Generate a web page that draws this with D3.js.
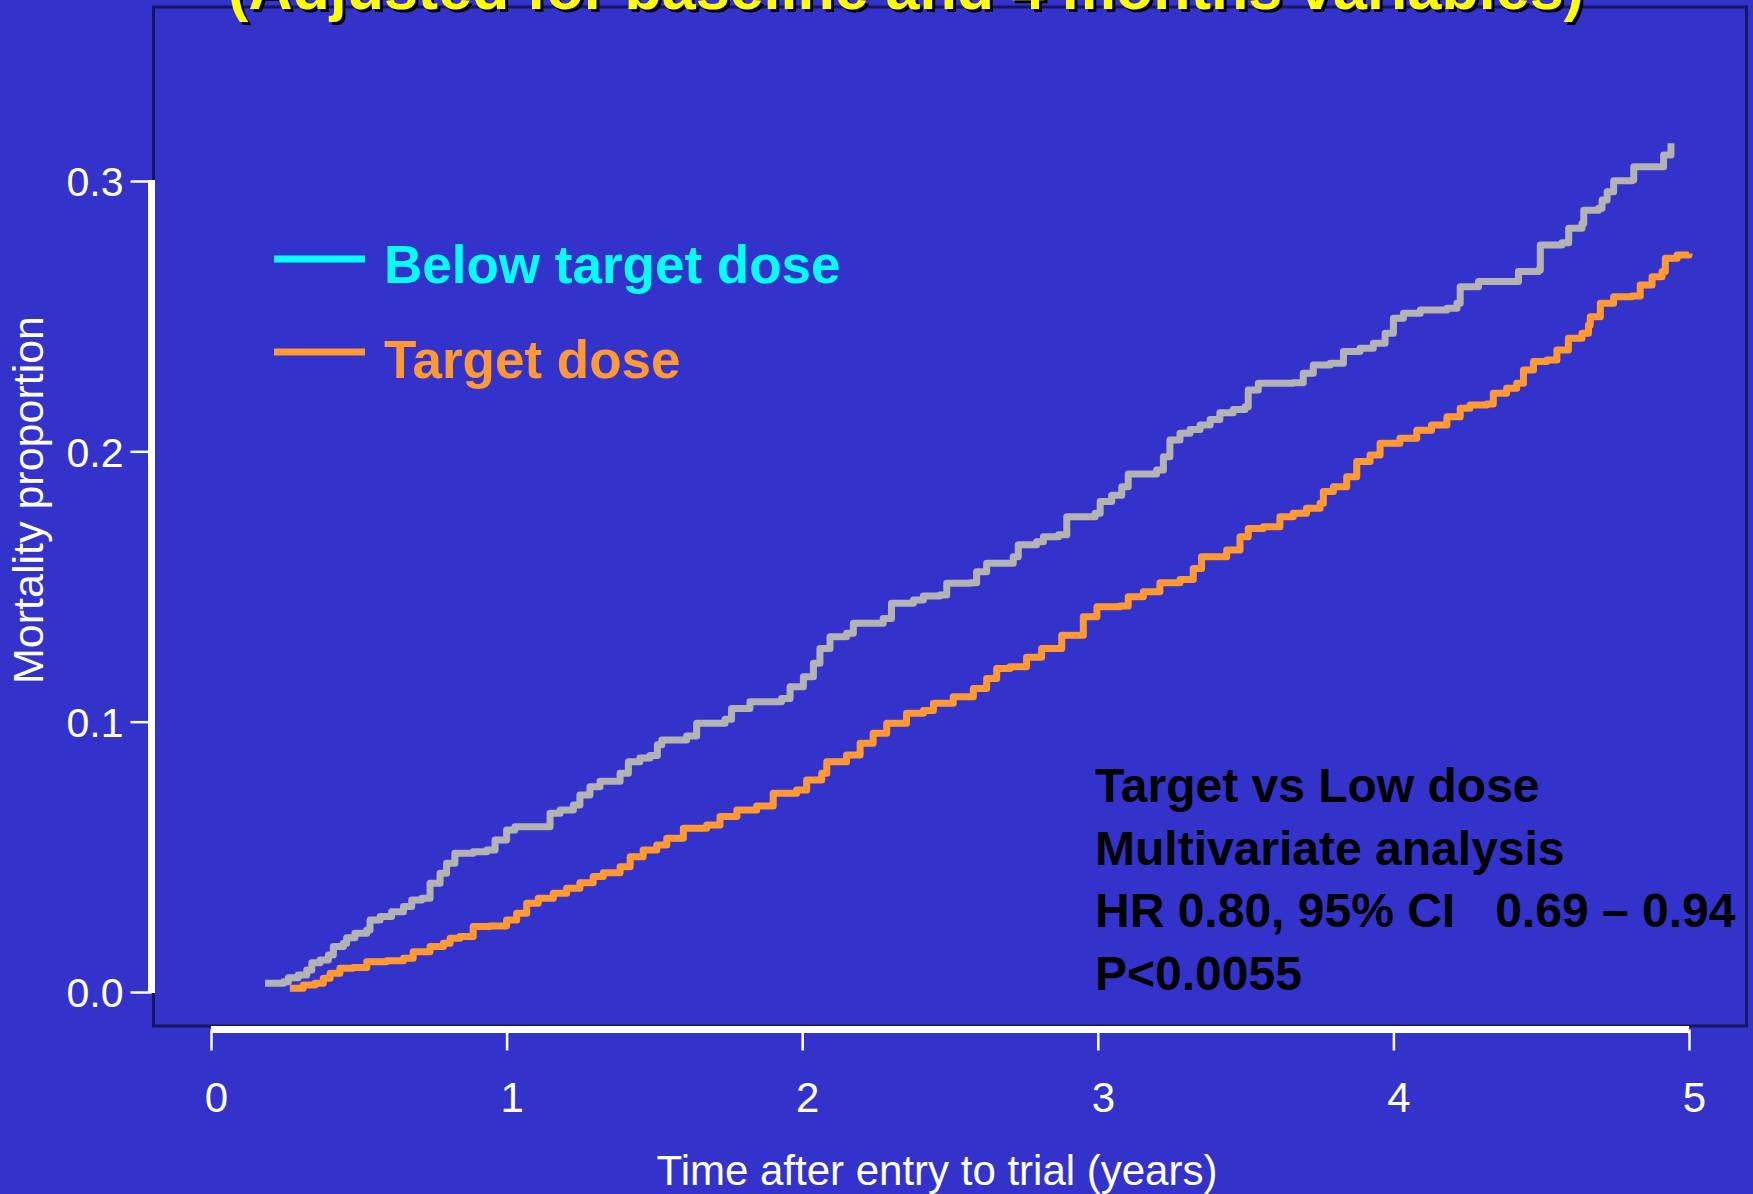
<!DOCTYPE html>
<html>
<head>
<meta charset="utf-8">
<script src="https://cdn.jsdelivr.net/npm/d3@7"></script>
<style>
  html, body { margin: 0; padding: 0; background: #3333CC; }
  svg { display: block; }
  text { font-family: "Liberation Sans", Arial, Helvetica, sans-serif; }
</style>
</head>
<body>
<svg id="chart" width="1753" height="1194"></svg>
<script>
// ---- Data ----
const titleText = "(Adjusted for baseline and 4 months variables)";
const xTicks = [0, 1, 2, 3, 4, 5];
const yTicks = [0.0, 0.1, 0.2, 0.3];
const yTickLabels = ["0.0", "0.1", "0.2", "0.3"];
const xTitle = "Time after entry to trial (years)";
const yTitle = "Mortality proportion";
const seriesNames = ["Below target dose", "Target dose"];
const annotationLines = ["Target vs Low dose", "Multivariate analysis", "HR 0.80, 95% CI   0.69 \u2013 0.94", "P<0.0055"];

const belowTime = [0.183, 0.245, 0.262, 0.295, 0.324, 0.341, 0.369, 0.397, 0.414, 0.448, 0.459, 0.487, 0.527, 0.538, 0.572, 0.611, 0.651, 0.679, 0.713, 0.741, 0.775, 0.797, 0.825, 0.887, 0.933, 0.961, 1.000, 1.028, 1.147, 1.181, 1.226, 1.248, 1.282, 1.316, 1.384, 1.412, 1.451, 1.485, 1.510, 1.525, 1.609, 1.643, 1.739, 1.761, 1.823, 1.930, 1.959, 2.004, 2.038, 2.060, 2.094, 2.150, 2.173, 2.274, 2.302, 2.376, 2.410, 2.466, 2.489, 2.568, 2.590, 2.624, 2.714, 2.731, 2.793, 2.816, 2.867, 2.895, 2.991, 3.008, 3.047, 3.081, 3.103, 3.199, 3.222, 3.244, 3.278, 3.312, 3.346, 3.380, 3.413, 3.458, 3.498, 3.509, 3.543, 3.661, 3.695, 3.729, 3.786, 3.831, 3.887, 3.932, 3.972, 4.000, 4.034, 4.091, 4.181, 4.215, 4.226, 4.288, 4.423, 4.491, 4.497, 4.570, 4.593, 4.638, 4.644, 4.694, 4.706, 4.723, 4.745, 4.807, 4.813, 4.914, 4.939];
const belowMort = [0.0032, 0.0038, 0.0053, 0.0063, 0.0081, 0.0108, 0.0118, 0.0137, 0.0168, 0.0180, 0.0201, 0.0217, 0.0229, 0.0266, 0.0279, 0.0297, 0.0316, 0.0340, 0.0347, 0.0402, 0.0439, 0.0476, 0.0513, 0.0519, 0.0525, 0.0562, 0.0599, 0.0611, 0.0661, 0.0673, 0.0692, 0.0729, 0.0759, 0.0780, 0.0809, 0.0852, 0.0866, 0.0875, 0.0915, 0.0932, 0.0947, 0.0994, 0.1009, 0.1049, 0.1074, 0.1086, 0.1129, 0.1166, 0.1216, 0.1271, 0.1314, 0.1327, 0.1364, 0.1382, 0.1438, 0.1450, 0.1465, 0.1469, 0.1512, 0.1514, 0.1555, 0.1586, 0.1610, 0.1654, 0.1666, 0.1684, 0.1691, 0.1758, 0.1771, 0.1814, 0.1838, 0.1869, 0.1916, 0.1931, 0.1980, 0.2042, 0.2067, 0.2081, 0.2097, 0.2118, 0.2143, 0.2155, 0.2165, 0.2227, 0.2252, 0.2254, 0.2289, 0.2319, 0.2326, 0.2369, 0.2381, 0.2400, 0.2437, 0.2492, 0.2511, 0.2523, 0.2529, 0.2548, 0.2609, 0.2628, 0.2665, 0.2671, 0.2763, 0.2772, 0.2825, 0.2843, 0.2892, 0.2899, 0.2930, 0.2960, 0.3001, 0.3004, 0.3053, 0.3096, 0.3140];

const targetTime = [0.267, 0.312, 0.352, 0.380, 0.403, 0.436, 0.481, 0.527, 0.594, 0.651, 0.684, 0.741, 0.786, 0.809, 0.842, 0.887, 0.944, 1.000, 1.034, 1.068, 1.107, 1.158, 1.203, 1.248, 1.293, 1.327, 1.384, 1.418, 1.462, 1.508, 1.542, 1.598, 1.677, 1.722, 1.779, 1.846, 1.902, 1.981, 2.015, 2.066, 2.083, 2.150, 2.196, 2.240, 2.286, 2.353, 2.410, 2.444, 2.511, 2.579, 2.624, 2.658, 2.703, 2.759, 2.810, 2.878, 2.951, 2.997, 3.076, 3.103, 3.154, 3.210, 3.278, 3.323, 3.351, 3.436, 3.481, 3.509, 3.560, 3.616, 3.661, 3.706, 3.752, 3.763, 3.797, 3.842, 3.876, 3.921, 3.955, 4.022, 4.079, 4.129, 4.181, 4.226, 4.259, 4.316, 4.338, 4.383, 4.417, 4.440, 4.474, 4.519, 4.553, 4.592, 4.638, 4.660, 4.666, 4.700, 4.745, 4.807, 4.835, 4.875, 4.909, 4.920, 4.960, 5.000];
const targetMort = [0.0014, 0.0026, 0.0032, 0.0051, 0.0069, 0.0088, 0.0091, 0.0112, 0.0116, 0.0125, 0.0149, 0.0168, 0.0180, 0.0199, 0.0205, 0.0242, 0.0244, 0.0266, 0.0291, 0.0328, 0.0347, 0.0365, 0.0384, 0.0404, 0.0427, 0.0441, 0.0463, 0.0500, 0.0525, 0.0544, 0.0569, 0.0606, 0.0618, 0.0649, 0.0673, 0.0688, 0.0735, 0.0747, 0.0784, 0.0809, 0.0852, 0.0877, 0.0920, 0.0957, 0.0994, 0.1031, 0.1041, 0.1068, 0.1092, 0.1123, 0.1160, 0.1197, 0.1203, 0.1238, 0.1271, 0.1320, 0.1388, 0.1425, 0.1428, 0.1462, 0.1481, 0.1514, 0.1526, 0.1567, 0.1610, 0.1635, 0.1684, 0.1715, 0.1721, 0.1758, 0.1771, 0.1789, 0.1808, 0.1851, 0.1869, 0.1906, 0.1962, 0.1986, 0.2030, 0.2048, 0.2078, 0.2097, 0.2128, 0.2159, 0.2171, 0.2175, 0.2215, 0.2233, 0.2252, 0.2301, 0.2332, 0.2338, 0.2375, 0.2418, 0.2437, 0.2467, 0.2498, 0.2548, 0.2572, 0.2575, 0.2615, 0.2646, 0.2665, 0.2714, 0.2726, 0.2732];

// ---- Layout ----
const svg = d3.select("#chart");
const W = 1753, H = 1194;
const bg = "#3333CC";
const frameColor = "#16165E";
const lineColors = ["#B3B3B3", "#FF9933"];
const legendColors = ["#00FFFF", "#FF9933"];

const x = d3.scaleLinear().domain([0, 5]).range([211, 1689]);
const y = d3.scaleLinear().domain([0, 0.3]).range([992, 181]);

svg.append("rect").attr("width", W).attr("height", H).attr("fill", bg);

// plot frame
svg.append("rect")
  .attr("x", 153.5).attr("y", 7)
  .attr("width", 1746.5 - 153.5).attr("height", 1026 - 7)
  .attr("fill", "none").attr("stroke", frameColor).attr("stroke-width", 3);

// curves
const series = [
  belowTime.map((t, i) => ({ t, v: belowMort[i] })),
  targetTime.map((t, i) => ({ t, v: targetMort[i] }))
];
const line = d3.line().x(d => x(d.t)).y(d => y(d.v)).curve(d3.curveStepAfter);
series.forEach((s, i) => {
  svg.append("path")
    .datum(s)
    .attr("d", line)
    .attr("fill", "none")
    .attr("stroke", lineColors[i])
    .attr("stroke-width", 7)
    .attr("stroke-linejoin", "round")
    .attr("stroke-linecap", "butt");
});

// y axis
const yAxisG = svg.append("g").attr("transform", "translate(151.5,0)");
yAxisG.call(d3.axisLeft(y).tickValues(yTicks).tickSize(21).tickFormat((d, i) => yTickLabels[i]));
yAxisG.select(".domain").remove();
yAxisG.selectAll(".tick line").attr("stroke", "#FFFFFF").attr("stroke-width", 2.5);
yAxisG.selectAll(".tick text")
  .attr("fill", "#FFFFFF")
  .attr("font-size", 41)
  .attr("x", -28)
  .attr("dy", "0.36em")
  .style("font-family", "'Liberation Sans', Arial, sans-serif");
svg.append("line")
  .attr("x1", 151.5).attr("x2", 151.5)
  .attr("y1", y(0.3) - 1).attr("y2", y(0) + 1)
  .attr("stroke", "#FFFFFF").attr("stroke-width", 7);

// x axis
const xAxisG = svg.append("g").attr("transform", "translate(0,1029.5)");
xAxisG.call(d3.axisBottom(x).tickValues(xTicks).tickSize(21).tickFormat(d3.format("d")));
xAxisG.select(".domain").remove();
xAxisG.selectAll(".tick line").attr("stroke", "#FFFFFF").attr("stroke-width", 2.5);
xAxisG.selectAll(".tick text")
  .attr("fill", "#FFFFFF")
  .attr("font-size", 42)
  .attr("x", 5)
  .attr("y", 82.5)
  .attr("dy", 0)
  .style("font-family", "'Liberation Sans', Arial, sans-serif");
svg.append("line")
  .attr("x1", x(0)).attr("x2", x(5))
  .attr("y1", 1029.5).attr("y2", 1029.5)
  .attr("stroke", "#FFFFFF").attr("stroke-width", 7);

// axis titles
svg.append("text")
  .attr("x", 937).attr("y", 1185)
  .attr("text-anchor", "middle")
  .attr("fill", "#FFFFFF").attr("font-size", 42)
  .text(xTitle);
svg.append("text")
  .attr("transform", "translate(43,500) rotate(-90)")
  .attr("text-anchor", "middle")
  .attr("fill", "#FFFFFF").attr("font-size", 43)
  .text(yTitle);

// legend
const legendY = [259, 352];
const legendTextY = [283, 378];
seriesNames.forEach((name, i) => {
  svg.append("line")
    .attr("x1", 274).attr("x2", 365)
    .attr("y1", legendY[i]).attr("y2", legendY[i])
    .attr("stroke", legendColors[i]).attr("stroke-width", 7);
  svg.append("text")
    .attr("x", 384).attr("y", legendTextY[i])
    .attr("fill", legendColors[i])
    .attr("font-size", 53).attr("font-weight", "bold")
    .text(name);
});

// annotation
annotationLines.forEach((t, i) => {
  svg.append("text")
    .attr("x", 1095).attr("y", 802 + i * 62.5)
    .attr("fill", "#000000")
    .attr("font-size", 48).attr("font-weight", "bold")
    .attr("xml:space", "preserve")
    .style("white-space", "pre")
    .text(t);
});

// title (cut off at top in the reference), with black shadow
svg.append("text")
  .attr("x", 909).attr("y", 12)
  .attr("text-anchor", "middle")
  .attr("fill", "#000000")
  .attr("font-size", 61).attr("font-weight", "bold")
  .text(titleText);
svg.append("text")
  .attr("x", 906).attr("y", 9)
  .attr("text-anchor", "middle")
  .attr("fill", "#FFFF00")
  .attr("font-size", 61).attr("font-weight", "bold")
  .text(titleText);
</script>
</body>
</html>
